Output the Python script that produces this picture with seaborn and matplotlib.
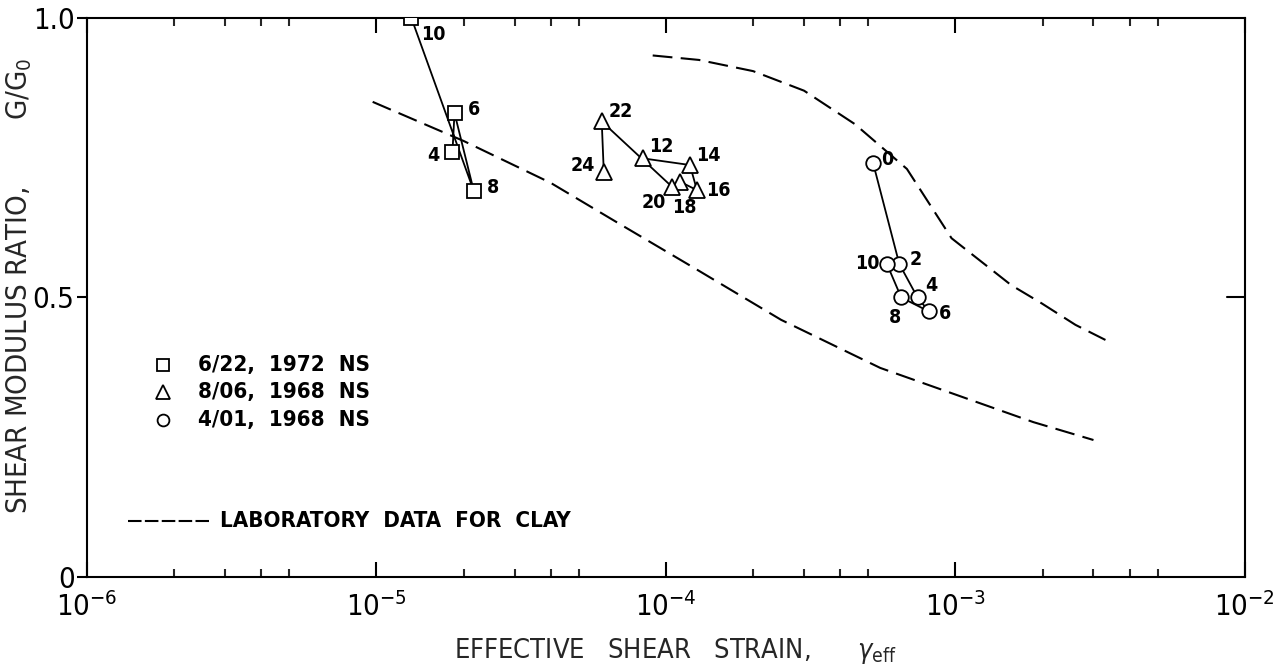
import numpy as np
import pandas as pd
import matplotlib
matplotlib.use("Agg")
import matplotlib.pyplot as plt
import seaborn as sns
from matplotlib.ticker import FixedLocator, NullFormatter

# Field records: effective shear strain and modulus ratio, labelled by time
sq_strain = [1.83e-5, 1.86e-5, 2.17e-5, 1.32e-5]
sq_ratio = [0.76, 0.83, 0.69, 1.00]
sq_labels = ["4", "6", "8", "10"]

tri_strain = [8.3e-5, 1.21e-4, 1.28e-4, 1.12e-4, 1.05e-4, 6.0e-5, 6.1e-5]
tri_ratio = [0.749, 0.737, 0.692, 0.707, 0.698, 0.815, 0.724]
tri_labels = ["12", "14", "16", "18", "20", "22", "24"]

cir_strain = [5.2e-4, 6.4e-4, 7.4e-4, 8.1e-4, 6.5e-4, 5.8e-4]
cir_ratio = [0.74, 0.56, 0.50, 0.475, 0.50, 0.56]
cir_labels = ["0", "2", "4", "6", "8", "10"]

# Laboratory curves for clay (upper and lower bounds)
lab_upper_strain = [9.0e-5, 1.3e-4, 2.0e-4, 3.0e-4, 4.5e-4, 6.8e-4, 9.7e-4, 1.56e-3, 1.98e-3, 2.6e-3, 3.3e-3]
lab_upper_ratio = [0.933, 0.925, 0.905, 0.87, 0.81, 0.73, 0.606, 0.522, 0.490, 0.451, 0.424]
lab_lower_strain = [9.7e-6, 2.0e-5, 4.0e-5, 7.0e-5, 1.25e-4, 2.5e-4, 5.5e-4, 1.86e-3, 3.0e-3]
lab_lower_ratio = [0.850, 0.78, 0.705, 0.63, 0.553, 0.46, 0.374, 0.277, 0.245]

legend_labels = ["6/22,  1972  NS", "8/06,  1968  NS", "4/01,  1968  NS"]
lab_label = "LABORATORY  DATA  FOR  CLAY"

sns.set_theme(style="white")
plt.rcParams["font.family"] = ["DejaVu Sans"]
plt.rcParams["font.stretch"] = "condensed"
plt.rcParams["mathtext.fontset"] = "dejavusans"

fig = plt.figure(figsize=(12.82, 6.67), dpi=100)
ax = fig.add_axes([0.0679, 0.135, 0.9031, 0.838])

INK = "black"
dash = (9.5, 4.0)

# laboratory curves
for xs, ys in [(lab_upper_strain, lab_upper_ratio), (lab_lower_strain, lab_lower_ratio)]:
    d = pd.DataFrame({"x": xs, "y": ys})
    sns.lineplot(data=d, x="x", y="y", ax=ax, estimator=None, sort=False,
                 color=INK, linewidth=1.5, dashes=False, linestyle=(0, dash))

series = [
    (sq_strain, sq_ratio, sq_labels, "s", 9.5),
    (tri_strain, tri_ratio, tri_labels, "^", 12),
    (cir_strain, cir_ratio, cir_labels, "o", 10.5),
]
for xs, ys, labs, mk, ms in series:
    d = pd.DataFrame({"x": xs, "y": ys})
    sns.lineplot(data=d, x="x", y="y", ax=ax, estimator=None, sort=False,
                 color=INK, linewidth=1.3, marker=mk, markersize=ms,
                 markerfacecolor="white", markeredgecolor=INK, markeredgewidth=1.3,
                 zorder=4)

# point labels (offsets in pixels: right, down)
offsets = {
    "s": {"4": (-19, 3), "6": (19, -4), "8": (19, -4), "10": (22, 16)},
    "^": {"12": (19, -12), "14": (18, -10), "16": (21, 0), "18": (4, 26),
          "20": (-18, 16), "22": (19, -10), "24": (-21, -7)},
    "o": {"0": (14, -4), "2": (16, -4), "4": (14, -12), "6": (16, 2),
          "8": (-6, 20), "10": (-20, 0)},
}
for xs, ys, labs, mk, ms in series:
    for x, y, lab in zip(xs, ys, labs):
        dx, dy = offsets[mk][lab]
        ax.annotate(lab, (x, y), xytext=(dx * 0.72, -dy * 0.72), textcoords="offset points",
                    ha="center", va="center", fontsize=14, fontweight="bold", color=INK)

ax.set_xscale("log")
ax.set_xlim(1e-6, 1e-2)
ax.set_ylim(0, 1.0)

# legend drawn as markers and text inside the axes
leg_x = 1.83e-6
leg_tx = 2.42e-6
for lab, mk, ms, y in zip(legend_labels, ["s", "^", "o"], [8, 10, 8.5], [0.379, 0.331, 0.281]):
    ax.plot([leg_x], [y], marker=mk, markersize=ms, markerfacecolor="white",
            markeredgecolor=INK, markeredgewidth=1.3, linestyle="none")
    ax.text(leg_tx, y, lab, ha="left", va="center", fontsize=16, fontweight="bold", color=INK)
ax.plot([1.39e-6, 2.63e-6], [0.10, 0.10], color=INK, linewidth=1.5, linestyle=(0, (6.5, 1.6)))
ax.text(2.88e-6, 0.10, lab_label, ha="left", va="center", fontsize=16, fontweight="bold", color=INK)

# axes frame and ticks
for s in ax.spines.values():
    s.set_color(INK)
    s.set_linewidth(1.5)
ax.xaxis.set_major_locator(FixedLocator([1e-6, 1e-5, 1e-4, 1e-3, 1e-2]))
minors = [m * 10.0 ** e for e in range(-6, -2) for m in (2, 3, 4, 5)]
ax.xaxis.set_minor_locator(FixedLocator(minors))
ax.xaxis.set_minor_formatter(NullFormatter())
ax.set_xticklabels([r"$10^{-6}$", r"$10^{-5}$", r"$10^{-4}$", r"$10^{-3}$", r"$10^{-2}$"])
ax.tick_params(axis="x", which="major", direction="in", length=11, width=1.5,
               top=True, bottom=True, labelsize=21, pad=11, colors=INK)
ax.tick_params(axis="x", which="minor", direction="in", length=6, width=1.5,
               top=True, bottom=True)
ax.set_yticks([0, 0.5, 1.0])
ax.set_yticklabels(["0", "0.5", "1.0"])
ax.tick_params(axis="y", which="major", direction="out", length=7, width=1.5,
               left=True, right=False, labelsize=21, pad=2, colors=INK)
ax.plot([1.0, 0.985], [0.5, 0.5], transform=ax.get_yaxis_transform(), color=INK,
        linewidth=1.5, clip_on=False)

ax.set_xlabel(r"EFFECTIVE   SHEAR   STRAIN,      $\gamma_{\rm eff}$", fontsize=19.5)
ax.xaxis.set_label_coords(0.508, -0.106)
ax.set_ylabel(r"SHEAR MODULUS RATIO,        G/G$_{\rm 0}$", fontsize=21)
ax.yaxis.set_label_coords(-0.046, 0.52)
ax.grid(False)

fig.savefig("out.png", dpi=100)
